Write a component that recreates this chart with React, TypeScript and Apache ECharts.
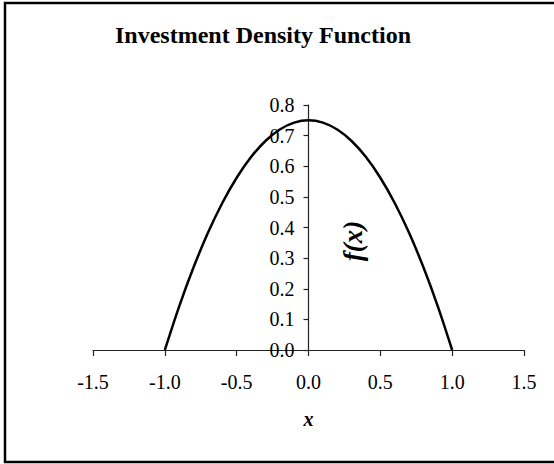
import React, { useEffect, useRef } from "react";
import * as echarts from "echarts";

// Sample points of the density curve
const xValues = [
  -1.0, -0.9, -0.8, -0.7, -0.6, -0.5, -0.4, -0.3, -0.2, -0.1, 0.0,
  0.1, 0.2, 0.3, 0.4, 0.5, 0.6, 0.7, 0.8, 0.9, 1.0,
];
const densityValues = [
  0.0, 0.1425, 0.27, 0.3825, 0.48, 0.5625, 0.63, 0.6825, 0.72, 0.7425, 0.75,
  0.7425, 0.72, 0.6825, 0.63, 0.5625, 0.48, 0.3825, 0.27, 0.1425, 0.0,
];

const titleText = "Investment Density Function";
const xAxisName = "x";
const yAxisName = "f(x)";

const SERIF = "'Liberation Serif', 'Times New Roman', serif";

const X_MIN = -1.5;
const X_MAX = 1.5;
const GRID = { left: 93, right: 30, top: 105, bottom: 114 };
const WIDTH = 554;

export default function App() {
  const ref = useRef<HTMLDivElement>(null);

  useEffect(() => {
    if (!ref.current) return;
    const chart = echarts.init(ref.current, null, { renderer: "svg" });
    const data = xValues.map((x, i) => [x, densityValues[i]]);

    // Vertical axis crosses the horizontal one at x = 0
    const plotWidth = WIDTH - GRID.left - GRID.right;
    const yAxisShift = (plotWidth * (0 - X_MIN)) / (X_MAX - X_MIN);

    chart.setOption({
      animation: false,
      backgroundColor: "#ffffff",
      grid: GRID,
      xAxis: {
        type: "value",
        min: X_MIN,
        max: X_MAX,
        interval: 0.5,
        name: xAxisName,
        nameLocation: "middle",
        nameGap: 59,
        nameTextStyle: {
          fontFamily: SERIF,
          fontSize: 20,
          fontWeight: "bold",
          fontStyle: "italic",
          color: "#000",
        },
        axisLine: { lineStyle: { color: "#222", width: 1.2 } },
        axisTick: { show: true, length: 6, lineStyle: { color: "#222", width: 1.2 } },
        splitLine: { show: false },
        axisLabel: {
          margin: 22,
          fontFamily: SERIF,
          fontSize: 20,
          color: "#000",
          formatter: (v: number) => v.toFixed(1),
        },
      },
      yAxis: {
        type: "value",
        min: 0,
        max: 0.8,
        interval: 0.1,
        offset: -yAxisShift,
        axisLine: { show: true, onZero: false, lineStyle: { color: "#222", width: 1.2 } },
        axisTick: { show: true, length: 5, lineStyle: { color: "#222", width: 1.2 } },
        splitLine: { show: false },
        axisLabel: {
          margin: 14,
          fontFamily: SERIF,
          fontSize: 20,
          color: "#000",
          formatter: (v: number) => v.toFixed(1),
        },
      },
      graphic: [
        {
          type: "rect",
          shape: { x: 5, y: 3, width: 560, height: 459 },
          style: { fill: "none", stroke: "#000", lineWidth: 2.5 },
          silent: true,
        },
        {
          type: "text",
          x: 263,
          y: 35,
          style: {
            text: titleText,
            fontFamily: SERIF,
            fontSize: 24,
            fontWeight: "bold",
            fill: "#000",
            align: "center",
            verticalAlign: "middle",
          },
        },
        {
          type: "text",
          x: 353,
          y: 241,
          rotation: Math.PI / 2,
          style: {
            text: yAxisName,
            fontFamily: SERIF,
            fontSize: 27,
            fontWeight: "bold",
            fontStyle: "italic",
            fill: "#000",
            align: "center",
            verticalAlign: "middle",
          },
        },
      ],
      series: [
        {
          type: "line",
          data,
          smooth: 0.3,
          showSymbol: false,
          lineStyle: { color: "#000", width: 2.5 },
        },
      ],
    });

    return () => chart.dispose();
  }, []);

  return (
    <div
      ref={ref}
      style={{ position: "absolute", left: 0, top: 0, width: WIDTH, height: 464 }}
    />
  );
}
